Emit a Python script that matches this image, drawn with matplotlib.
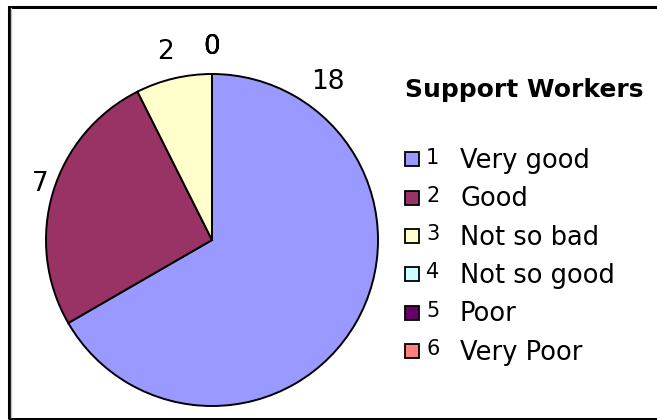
import numpy as np
import matplotlib
matplotlib.use("Agg")
import matplotlib.pyplot as plt
import matplotlib.patches as mpatches

plt.rcParams['font.family'] = ['DejaVu Sans']

# data
codes = ["1", "2", "3", "4", "5", "6"]
categories = ["Very good", "Good", "Not so bad", "Not so good", "Poor", "Very Poor"]
values = [18, 7, 2, 0, 0, 0]
colors = ["#9999FF", "#993366", "#FFFFCC", "#CCFFFF", "#660066", "#FF8080"]
title = "Support Workers"
# where Excel left each value label: (angle in deg, distance in radii)
label_pos = [(53.7, 1.18), (162.0, 1.09), (104.0, 1.17), (90.0, 1.16), (90.0, 1.16), (90.0, 1.16)]

W, H = 657, 420
fig = plt.figure(figsize=(W / 100, H / 100), dpi=100)

# outer frame (right edge is cut off in the original)
fig.patches.append(mpatches.Rectangle((8.5 / W, 1.5 / H), 700 / W, (H - 8) / H, transform=fig.transFigure,
                                      fill=False, edgecolor="black", linewidth=2.2))
fig.add_artist(plt.Line2D([10.5 / W, 10.5 / W], [3 / H, (H - 8) / H], transform=fig.transFigure,
                          color="#c0c0c0", linewidth=1))

# pie axes (centre ~ (212,240) px, radius ~166 px)
cx, cy, r = 212, 240, 166
ax = fig.add_axes([(cx - r) / W, (H - cy - r) / H, 2 * r / W, 2 * r / H])
wedges, texts = ax.pie(values, colors=colors, startangle=90, counterclock=False,
                       labels=[str(v) for v in values],
                       wedgeprops=dict(edgecolor="black", linewidth=1.4),
                       textprops=dict(fontsize=19))
ax.set_aspect("equal")
ax.set_xlim(-1, 1)
ax.set_ylim(-1, 1)
for t, (a, d) in zip(texts, label_pos):
    a = np.deg2rad(a)
    t.set_position((d * np.cos(a), d * np.sin(a)))
    t.set_ha("center")
    t.set_va("center")

# legend
fig.text(524 / W, 1 - 97.5 / H, title, fontsize=18, fontweight="bold", ha="center", va="baseline")
for i, (code, lab, col) in enumerate(zip(codes, categories, colors)):
    base = 168 + i * 38.3
    fig.patches.append(mpatches.Rectangle((404.5 / W, 1 - (base - 1.5) / H), 14 / W, 14 / H,
                                          transform=fig.transFigure, facecolor=col,
                                          edgecolor="black", linewidth=1.3))
    fig.text(426 / W, 1 - (base - 4.5) / H, code, fontsize=15, ha="left", va="baseline")
    fig.text(460 / W, 1 - base / H, lab, fontsize=18.5, ha="left", va="baseline")

fig.savefig("out.png", dpi=100)
